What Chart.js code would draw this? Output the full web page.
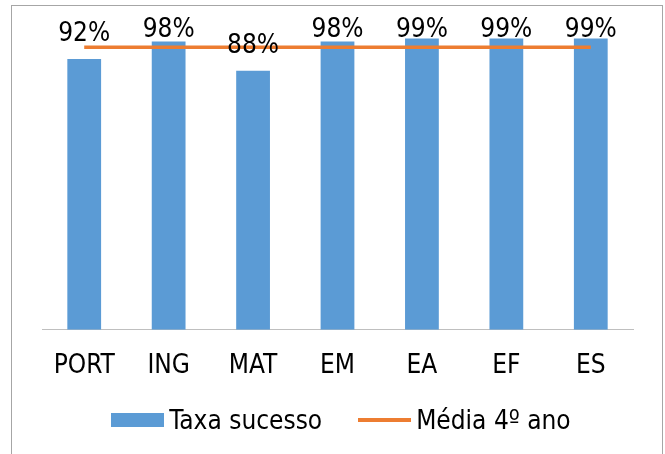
<!DOCTYPE html>
<html>
<head>
<meta charset="utf-8">
<script src="https://cdn.jsdelivr.net/npm/chart.js@4/dist/chart.umd.min.js"></script>
<style>
  body { margin: 0; background: #fff; }
  #wrap { position: relative; width: 665px; height: 454px; overflow: hidden; }
  #frame { position: absolute; left: 11px; top: 5px; width: 650px; height: 470px; border: 1px solid #a6a6a6; }
  #chart { position: absolute; left: 0; top: 0; }
  #legend {
    position: absolute; left: 11px; width: 660px; top: 402px; height: 36px;
    display: flex; justify-content: center; align-items: center;
    font: 26px 'DejaVu Sans Condensed', 'DejaVu Sans', sans-serif; color: #000;
  }
  .item { display: flex; align-items: center; margin: 0 18px; }
  .mark { width: 53px; margin-right: 5px; }
</style>
</head>
<body>
<div id="wrap">
  <div id="frame"></div>
  <canvas id="chart" width="665" height="454"></canvas>
  <div id="legend"></div>
</div>
<script>
const categories = ["PORT", "ING", "MAT", "EM", "EA", "EF", "ES"];
const taxaSucesso = [0.92, 0.98, 0.88, 0.98, 0.99, 0.99, 0.99];
const mediaAno = [0.96, 0.96, 0.96, 0.96, 0.96, 0.96, 0.96];

const FONT = "'DejaVu Sans Condensed', 'DejaVu Sans', sans-serif";

// rótulos de valor acima das barras
const barLabels = {
    id: "barLabels",
    afterDatasetsDraw(chart) {
        const ctx = chart.ctx;
        const meta = chart.getDatasetMeta(0);
        const minY = chart.chartArea.top + 1;
        ctx.save();
        ctx.font = "26px " + FONT;
        ctx.fillStyle = "#000";
        ctx.textAlign = "center";
        ctx.textBaseline = "alphabetic";
        meta.data.forEach((bar, i) => {
            const y = Math.max(bar.y - 18, minY);
            ctx.fillText(Math.round(taxaSucesso[i] * 100) + "%", bar.x, y);
        });
        ctx.restore();
    }
};

const chart = new Chart(document.getElementById("chart"), {
    type: "bar",
    data: {
        labels: categories,
        datasets: [
            {
                label: "Taxa sucesso",
                data: taxaSucesso,
                backgroundColor: "#5b9bd5",
                barPercentage: 0.4,
                categoryPercentage: 1,
                order: 2
            },
            {
                type: "line",
                label: "Média 4º ano",
                data: mediaAno,
                borderColor: "#ed7d31",
                backgroundColor: "#ed7d31",
                borderWidth: 3.5,
                pointRadius: 0,
                fill: false,
                order: 1
            }
        ]
    },
    options: {
        responsive: false,
        animation: false,
        layout: { padding: { left: 42, right: 32, top: 35.5, bottom: 51 } },
        scales: {
            x: {
                grid: { display: false, drawTicks: false },
                border: { display: true, color: "#bfbfbf", width: 1 },
                ticks: { color: "#000", font: { family: FONT, size: 26 }, padding: 21, maxRotation: 0, autoSkip: false }
            },
            y: { display: false, min: 0, max: 1 }
        },
        plugins: {
            legend: { display: false },
            tooltip: { enabled: false }
        }
    },
    plugins: [barLabels]
});

// legenda em HTML, a partir dos datasets
const legendDiv = document.getElementById("legend");
chart.data.datasets.forEach(ds => {
    const item = document.createElement("div");
    item.className = "item";
    const mark = document.createElement("span");
    mark.className = "mark";
    if (ds.type === "line") {
        mark.style.height = "3.5px";
        mark.style.background = ds.borderColor;
    } else {
        mark.style.height = "14px";
        mark.style.background = ds.backgroundColor;
    }
    const text = document.createElement("span");
    text.textContent = ds.label;
    item.appendChild(mark);
    item.appendChild(text);
    legendDiv.appendChild(item);
});
</script>
</body>
</html>
